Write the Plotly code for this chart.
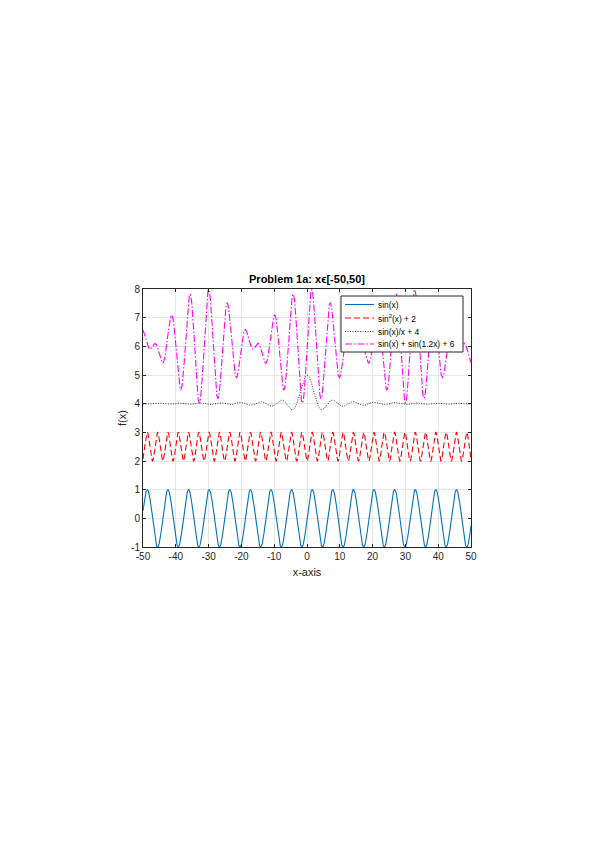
import numpy as np
import plotly.graph_objects as go

# Sample grid and the four plotted series (functions named in the legend)
x_vals = np.linspace(-50, 50, 2001)
y_sin = np.sin(x_vals)
y_sin2 = np.sin(x_vals) ** 2 + 2
y_sinc = np.sin(x_vals) / x_vals + 4
y_sum = np.sin(x_vals) + np.sin(1.2 * x_vals) + 6

series_names = ["sin(x)", "sin<sup>2</sup>(x) + 2", "sin(x)/x + 4", "sin(x) + sin(1.2x) + 6"]
x_ticks = [-50, -40, -30, -20, -10, 0, 10, 20, 30, 40, 50]
y_ticks = [-1, 0, 1, 2, 3, 4, 5, 6, 7, 8]

FONT = "Liberation Sans, Arial, sans-serif"
styles = [
    dict(color="#0072BD", width=1.1, dash="solid"),
    dict(color="#FF0000", width=1.1, dash="6px,3px"),
    dict(color="#000000", width=0.8, dash="1px,1.5px"),
    dict(color="#FF00FF", width=1.1, dash="7px,2px,1.5px,2px"),
]
series = [y_sin, y_sin2, y_sinc, y_sum]

fig = go.Figure()
for name, ys, st in zip(series_names, series, styles):
    fig.add_trace(go.Scatter(x=x_vals, y=ys, mode="lines", name=name, line=st, showlegend=False))

# Plot area in page pixels (reference): x 143..471, y 289..547
def px_x(px):
    return (px - 143) / 328.0

def px_y(py):
    return (547 - py) / 258.0

# Manual compact legend (MATLAB-like)
shapes = [dict(type="rect", xref="paper", yref="paper",
               x0=px_x(341), x1=px_x(463), y0=px_y(352), y1=px_y(296),
               line=dict(color="#262626", width=1), fillcolor="white", layer="above")]
annotations = []
entry_y = [304.5, 318, 331.5, 344]
for name, st, ey in zip(series_names, styles, entry_y):
    shapes.append(dict(type="line", xref="paper", yref="paper",
                       x0=px_x(345), x1=px_x(374), y0=px_y(ey), y1=px_y(ey),
                       line=st, layer="above"))
    annotations.append(dict(text=name, xref="paper", yref="paper",
                            x=px_x(376), y=px_y(ey), xanchor="left", yanchor="middle",
                            showarrow=False,
                            font=dict(family=FONT, size=8.4, color="#000000")))

axis_common = dict(
    showgrid=True, gridcolor="#E6E6E6", gridwidth=1,
    showline=True, linecolor="#262626", linewidth=1, mirror="ticks",
    ticks="inside", ticklen=3, tickcolor="#262626",
    tickfont=dict(family=FONT, size=10, color="#262626"),
    zeroline=False,
)

fig.update_layout(
    width=599, height=848,
    margin=dict(l=135, r=136, t=281, b=309, pad=0),
    paper_bgcolor="white", plot_bgcolor="white",
    title=dict(text="<b>Problem 1a: x\u03f5[-50,50]</b>", x=299 / 599,
               xanchor="center", y=1 - 271 / 848, yanchor="middle",
               font=dict(family=FONT, size=11, color="#000000")),
    xaxis=dict(range=[-50, 50], tickvals=x_ticks, ticktext=[str(v) for v in x_ticks],
               title=dict(text="x-axis", standoff=7,
                          font=dict(family=FONT, size=11, color="#262626")),
               **axis_common),
    yaxis=dict(range=[-1, 8], tickvals=y_ticks, ticktext=[str(v) for v in y_ticks],
               title=dict(text="f(x)", standoff=2,
                          font=dict(family=FONT, size=11, color="#262626")),
               **axis_common),
    showlegend=False,
    shapes=shapes,
    annotations=annotations,
)

fig.write_html("out.html")
